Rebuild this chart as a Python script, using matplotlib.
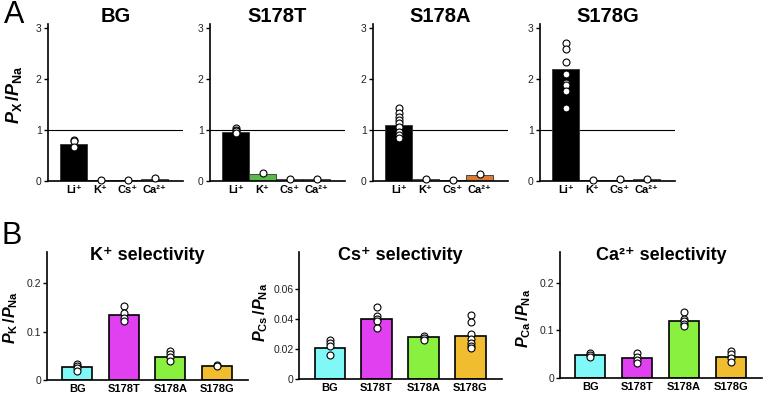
import matplotlib.pyplot as plt

plt.rcParams['font.family'] = ['Liberation Sans', 'DejaVu Sans']
plt.rcParams['mathtext.fontset'] = 'custom'
plt.rcParams['mathtext.rm'] = 'Liberation Sans:bold'
plt.rcParams['mathtext.it'] = 'Liberation Sans:italic:bold'
plt.rcParams['mathtext.bf'] = 'Liberation Sans:bold'

W, H = 763, 394

# ---- panel A data: P_X / P_Na for each ion ----
ions = ['Li⁺', 'K⁺', 'Cs⁺', 'Ca²⁺']
ion_colors = ['#000000', '#5cb84a', '#4f80bf', '#db7a32']
mutants = ['BG', 'S178T', 'S178A', 'S178G']

bg_means = [0.72, 0.01, 0.01, 0.04]
s178t_means = [0.96, 0.13, 0.03, 0.03]
s178a_means = [1.10, 0.03, 0.01, 0.12]
s178g_means = [2.19, 0.01, 0.02, 0.03]

bg_pts = [[0.80, 0.78, 0.66], [0.02], [0.02], [0.05]]
s178t_pts = [[1.03, 1.00, 0.98, 0.95], [0.15], [0.03], [0.03]]
s178a_pts = [[1.44, 1.33, 1.26, 1.20, 1.13, 1.05, 0.97, 0.90, 0.85], [0.04], [0.01], [0.13]]
s178g_pts = [[2.70, 2.58, 2.34, 2.10, 1.93, 1.88, 1.77, 1.43], [0.02], [0.03], [0.04]]

# ---- panel B data: selectivity per mutant ----
mut_colors = ['#80f8f8', '#e040f0', '#8af040', '#f0bc30']

k_means = [0.027, 0.134, 0.048, 0.030]
k_pts = [[0.033, 0.028, 0.024, 0.019], [0.153, 0.139, 0.129, 0.122],
         [0.060, 0.054, 0.047, 0.040], [0.032, 0.028]]
cs_means = [0.021, 0.040, 0.028, 0.029]
cs_pts = [[0.026, 0.024, 0.022, 0.016], [0.048, 0.042, 0.040, 0.039, 0.034],
          [0.029, 0.0275, 0.026], [0.043, 0.038, 0.030, 0.0265, 0.024, 0.022, 0.021]]
ca_means = [0.048, 0.041, 0.120, 0.043]
ca_pts = [[0.053, 0.048, 0.045], [0.053, 0.045, 0.038, 0.031],
          [0.138, 0.124, 0.119, 0.114, 0.108], [0.057, 0.050, 0.041, 0.033]]

fig = plt.figure(figsize=(W / 100, H / 100), dpi=100)


def px_axes(x0, y0, x1, y1):
    return fig.add_axes([x0 / W, 1 - y1 / H, (x1 - x0) / W, (y1 - y0) / H])


def style(ax):
    for s in ['top', 'right']:
        ax.spines[s].set_visible(False)
    for s in ['left', 'bottom']:
        ax.spines[s].set_linewidth(1.2)
    ax.tick_params(axis='y', length=3, width=1, labelsize=7.5, pad=1.5, labelcolor='#222222')
    ax.tick_params(axis='x', length=0, pad=3)


def dots(ax, pts):
    for i, p in enumerate(pts):
        ax.plot([i] * len(p), p, 'o', ms=5, mfc='white', mec='black', mew=0.8,
                zorder=4, clip_on=False)


# panel A
a_boxes = [(48, 24, 183, 181), (210, 24, 345, 181), (373, 24, 508, 181), (540, 24, 675, 181)]
a_means = [bg_means, s178t_means, s178a_means, s178g_means]
a_pts = [bg_pts, s178t_pts, s178a_pts, s178g_pts]
for box, name, m, p in zip(a_boxes, mutants, a_means, a_pts):
    ax = px_axes(*box)
    style(ax)
    x = range(len(ions))
    ax.bar(x, m, width=1.0, color=ion_colors, edgecolor='#333333', linewidth=0.6, zorder=2)
    ax.axhline(1, color='black', lw=0.8, zorder=1)
    dots(ax, p)
    ax.set_xlim(-0.95, 4.05)
    ax.set_ylim(0, 3.08)
    ax.set_yticks([0, 1, 2, 3])
    ax.set_yticklabels(['0', '1', '2', '3'])
    ax.set_xticks(list(x))
    ax.set_xticklabels(ions, fontsize=8, fontweight='bold')
    ax.text(0.5, 1.045, name, transform=ax.transAxes, ha='center', va='center',
            fontsize=14.5, fontweight='bold')

fig.text(14 / W, 1 - 95 / H, r'$P_{\rm X}\,/P_{\rm Na}$', rotation=90,
         ha='center', va='center', fontsize=13)
fig.text(14 / W, 1 - 15 / H, 'A', ha='center', va='center', fontsize=22)

# panel B
b_boxes = [(47, 252, 248, 380), (299, 252, 502, 379), (560, 252, 762, 378)]
b_means = [k_means, cs_means, ca_means]
b_pts = [k_pts, cs_pts, ca_pts]
b_titles = ['K⁺ selectivity', 'Cs⁺ selectivity', 'Ca²⁺ selectivity']
b_ylim = [0.265, 0.085, 0.264]
b_ticks = [[0, 0.1, 0.2], [0, 0.02, 0.04, 0.06], [0, 0.1, 0.2]]
b_ticklabels = [['0', '0.1', '0.2'], ['0', '0.02', '0.04', '0.06'], ['0', '0.1', '0.2']]
b_ylabels = [r'$P_{\rm K}\,/P_{\rm Na}$', r'$P_{\rm Cs}\,/P_{\rm Na}$', r'$P_{\rm Ca}\,/P_{\rm Na}$']
b_ylabel_pos = [(11, 317), (261, 312), (524, 318)]

for i in range(3):
    ax = px_axes(*b_boxes[i])
    style(ax)
    ax.tick_params(axis='y', pad=1)
    x = range(len(mutants))
    ax.bar(x, b_means[i], width=0.64, color=mut_colors, edgecolor='black', linewidth=1.2, zorder=2)
    dots(ax, b_pts[i])
    ax.set_xlim(-0.65, 3.67)
    ax.set_ylim(0, b_ylim[i])
    ax.set_yticks(b_ticks[i])
    ax.set_yticklabels(b_ticklabels[i])
    ax.set_xticks(list(x))
    ax.set_xticklabels(mutants, fontsize=8, fontweight='bold')
    ax.text(0.5, 0.975, b_titles[i], transform=ax.transAxes, ha='center', va='center',
            fontsize=13, fontweight='bold')
    lx, ly = b_ylabel_pos[i]
    fig.text(lx / W, 1 - ly / H, b_ylabels[i], rotation=90, ha='center', va='center',
             fontsize=11.5)

fig.text(12 / W, 1 - 236 / H, 'B', ha='center', va='center', fontsize=22)

fig.savefig('out.png', dpi=100)
